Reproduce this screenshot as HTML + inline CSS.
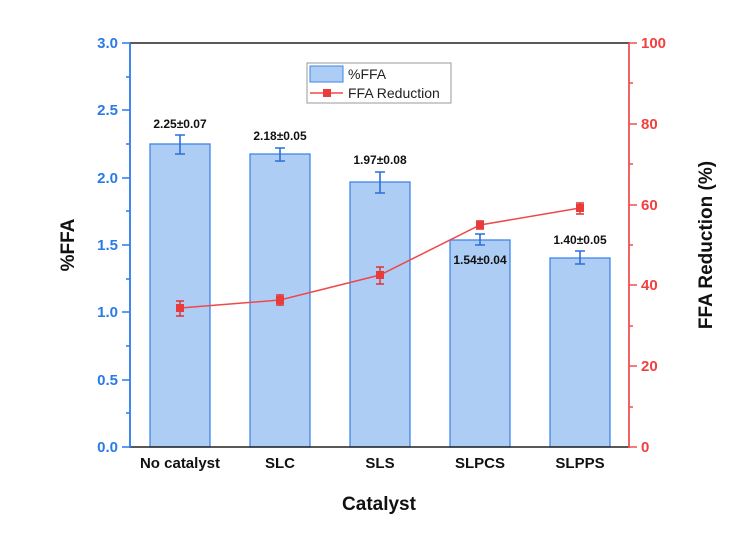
<!DOCTYPE html>
<html><head><style>body{margin:0;background:#fff}</style></head><body>
<svg width="743" height="536" xmlns="http://www.w3.org/2000/svg" font-family="Liberation Sans, Arial, sans-serif">
<g fill="#aecdf5" stroke="#3f86ea" stroke-width="1.3">
<rect x="150" y="144" width="60" height="303"/>
<rect x="250" y="154" width="60" height="293"/>
<rect x="350" y="182" width="60" height="265"/>
<rect x="450" y="240" width="60" height="207"/>
<rect x="550" y="258" width="60" height="189"/>
</g>
<g stroke="#2a6fdc" stroke-width="1.6" fill="none">
<path d="M180 135V154M175 135H185M175 154H185"/>
<path d="M280 148V161M275 148H285M275 161H285"/>
<path d="M380 172V193M375 172H385M375 193H385"/>
<path d="M480 234V245M475 234H485M475 245H485"/>
<path d="M580 251V264M575 251H585M575 264H585"/>
</g>
<g font-size="12" font-weight="bold" text-anchor="middle" fill="#111">
<text x="180" y="128">2.25±0.07</text>
<text x="280" y="140">2.18±0.05</text>
<text x="380" y="164">1.97±0.08</text>
<text x="480" y="264">1.54±0.04</text>
<text x="580" y="244">1.40±0.05</text>
</g>
<polyline points="180,308 280,300 380,275 480,225 580,208" fill="none" stroke="#f04848" stroke-width="1.5"/>
<g stroke="#e03030" stroke-width="1.4">
<path d="M180 301V316M176 301H184M176 316H184"/>
<path d="M280 295V305M276 295H284M276 305H284"/>
<path d="M380 267V284M376 267H384M376 284H384"/>
<path d="M480 221V229M476 221H484M476 229H484"/>
<path d="M580 203V214M576 203H584M576 214H584"/>
</g>
<g fill="#e83b3b">
<rect x="176" y="304" width="8" height="8"/><rect x="276" y="296" width="8" height="8"/>
<rect x="376" y="271" width="8" height="8"/><rect x="476" y="221" width="8" height="8"/>
<rect x="576" y="204" width="8" height="8"/>
</g>
<line x1="130" y1="43" x2="630" y2="43" stroke="#222" stroke-width="1.5"/>
<line x1="130" y1="447" x2="630" y2="447" stroke="#222" stroke-width="1.5"/>
<line x1="130" y1="43" x2="130" y2="448" stroke="#2a7ae8" stroke-width="1.8"/>
<line x1="629" y1="43" x2="629" y2="448" stroke="#f05050" stroke-width="1.8"/>
<g stroke="#2a7ae8" stroke-width="1.5">
<path d="M122 447H130M122 380H130M122 312H130M122 245H130M122 178H130M122 110H130M122 43H130"/>
<path d="M126 413H130M126 346H130M126 279H130M126 211H130M126 144H130M126 77H130"/>
</g>
<g font-size="15" font-weight="bold" fill="#2a7ae8" text-anchor="end">
<text x="118" y="452">0.0</text><text x="118" y="385">0.5</text><text x="118" y="317">1.0</text>
<text x="118" y="250">1.5</text><text x="118" y="183">2.0</text><text x="118" y="115">2.5</text><text x="118" y="48">3.0</text>
</g>
<g stroke="#f05050" stroke-width="1.5">
<path d="M629 447H637M629 366H637M629 285H637M629 205H637M629 124H637M629 43H637"/>
<path d="M629 407H633M629 326H633M629 245H633M629 164H633M629 83H633"/>
</g>
<g font-size="15" font-weight="bold" fill="#f04040">
<text x="641" y="452">0</text><text x="641" y="371">20</text><text x="641" y="290">40</text>
<text x="641" y="210">60</text><text x="641" y="129">80</text><text x="641" y="48">100</text>
</g>
<g font-size="15" font-weight="bold" fill="#111" text-anchor="middle">
<text x="180" y="468">No catalyst</text><text x="280" y="468">SLC</text><text x="380" y="468">SLS</text>
<text x="480" y="468">SLPCS</text><text x="580" y="468">SLPPS</text>
<text x="379" y="510" font-size="19">Catalyst</text>
<text transform="translate(74,245) rotate(-90)" font-size="19">%FFA</text>
<text transform="translate(712,245) rotate(-90)" font-size="19">FFA Reduction (%)</text>
</g>
<rect x="307" y="63" width="144" height="40" fill="#fff" stroke="#999" stroke-width="1"/>
<rect x="310" y="66" width="33" height="16" fill="#aecdf5" stroke="#3f86ea"/>
<line x1="310" y1="93" x2="343" y2="93" stroke="#f04848" stroke-width="1.5"/>
<rect x="323" y="89" width="8" height="8" fill="#e83b3b"/>
<text x="348" y="79" font-size="14" fill="#222">%FFA</text>
<text x="348" y="98" font-size="14" fill="#222">FFA Reduction</text>
</svg>
</body></html>
